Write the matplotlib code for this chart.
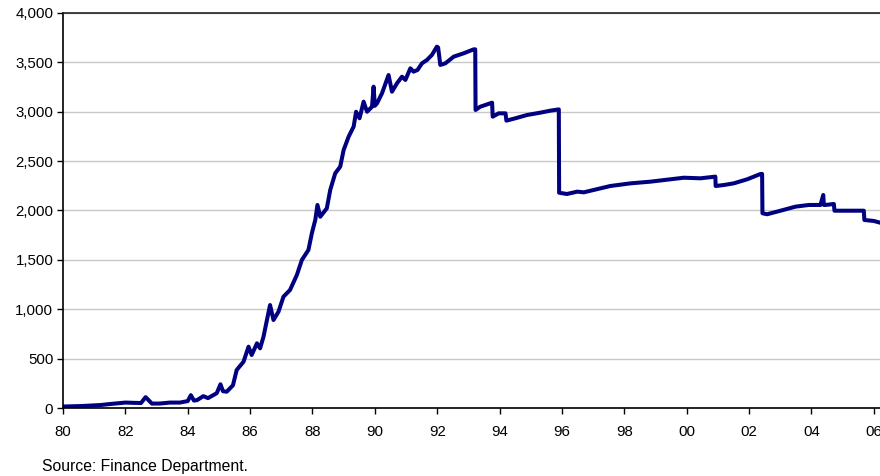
import matplotlib
matplotlib.use("Agg")
import matplotlib.pyplot as plt
from matplotlib.ticker import FuncFormatter

plt.rcParams["font.family"] = ["Liberation Sans", "DejaVu Sans"]

# year (1900-based, fractional) and index level
years = [
    80.0, 80.6, 81.2, 81.5, 82.0, 82.5, 82.65, 82.85, 83.1, 83.43, 83.75, 84.0,
    84.1, 84.2, 84.3, 84.5, 84.65, 84.93, 85.05, 85.13, 85.25, 85.45, 85.57,
    85.79, 85.95, 86.05, 86.22, 86.32, 86.43, 86.54, 86.64, 86.75, 86.91,
    87.07, 87.28, 87.50, 87.66, 87.87, 87.98, 88.09, 88.16, 88.25, 88.46,
    88.57, 88.73, 88.89, 89.0, 89.16, 89.32, 89.40, 89.51, 89.64, 89.75,
    89.91, 89.96, 90.0, 90.07, 90.23, 90.44, 90.55, 90.71, 90.87, 90.98,
    91.14, 91.24, 91.37, 91.51, 91.67, 91.83, 91.99, 92.03, 92.10, 92.26,
    92.53, 92.85, 93.17, 93.22, 93.23, 93.38, 93.54, 93.76, 93.78, 93.97,
    94.19, 94.22, 94.51, 94.88, 95.31, 95.63, 95.90, 95.91, 96.16, 96.49,
    96.70, 97.02, 97.55, 98.20, 98.84, 99.48, 99.91, 100.44, 100.92, 100.93,
    101.19, 101.51, 101.94, 102.37, 102.42, 102.43, 102.58, 103.01, 103.49,
    103.92, 104.29, 104.38, 104.40, 104.45, 104.72, 104.74, 105.26, 105.68,
    105.70, 106.0, 106.2,
]
index_level = [
    15, 20, 30, 40, 55, 50, 110, 45, 45, 55, 55, 70,
    130, 75, 80, 120, 100, 150, 240, 170, 165, 230, 385,
    469, 621, 537, 655, 604, 722, 891, 1043, 891, 975,
    1127, 1195, 1347, 1499, 1600, 1769, 1904, 2056, 1937, 2022,
    2208, 2377, 2444, 2613, 2748, 2849, 3000, 2934, 3102, 3000,
    3051, 3254, 3060, 3085, 3187, 3372, 3203, 3288, 3355, 3322,
    3440, 3406, 3423, 3490, 3524, 3575, 3659, 3650, 3474, 3490,
    3558, 3592, 3632, 3632, 3018, 3051, 3068, 3092, 2950, 2984,
    2984, 2910, 2934, 2967, 2991, 3011, 3024, 2180, 2167, 2191,
    2184, 2208, 2248, 2275, 2292, 2316, 2332, 2326, 2343, 2248,
    2258, 2275, 2316, 2370, 2370, 1972, 1962, 1998, 2039,
    2056, 2056, 2157, 2056, 2056, 2066, 1998, 1998, 1998,
    1904, 1894, 1877,
]
x_ticks = [80, 82, 84, 86, 88, 90, 92, 94, 96, 98, 100, 102, 104, 106]
y_ticks = [0, 500, 1000, 1500, 2000, 2500, 3000, 3500, 4000]

fig = plt.figure(figsize=(8.8, 4.76), dpi=100)
ax = fig.add_axes([63 / 880, 68 / 476, 817 / 880, 395 / 476])

ax.plot(years, index_level, color="#000080", linewidth=2.9, solid_joinstyle="round")

ax.set_xlim(80, 106.2)
ax.set_ylim(0, 4000)
ax.set_xticks(x_ticks)
ax.set_yticks(y_ticks)
ax.xaxis.set_major_formatter(FuncFormatter(lambda v, _: f"{int(v) % 100:02d}"))
ax.yaxis.set_major_formatter(FuncFormatter(lambda v, _: f"{int(v):,}"))
ax.tick_params(axis="both", direction="out", length=4, width=1, labelsize=10.8, colors="black")
ax.tick_params(axis="x", pad=8)
ax.tick_params(axis="y", pad=3)

ax.grid(axis="y", color="#c8c8c8", linewidth=1)
ax.set_axisbelow(True)
ax.spines["right"].set_visible(False)
ax.spines["top"].set_color("#222222")
for side in ("left", "bottom", "top"):
    ax.spines[side].set_linewidth(1.2)

fig.text(42 / 880, 1 - 466 / 476, "Source: Finance Department.", fontsize=11.3, va="center", ha="left")

fig.savefig("out.png", dpi=100)
